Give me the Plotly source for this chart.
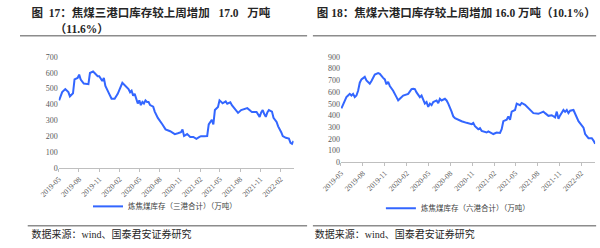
import pandas as pd
import plotly.graph_objects as go

# ---- data (weekly index since 2019-05-03, value in 万吨) ----
start_date = "2019-05-03"

left_weeks = [0, 2, 4, 6, 7, 9, 10, 12, 13, 14, 16, 19, 20, 22, 23, 25, 26, 28, 29, 30,
              32, 34, 36, 38, 41, 42, 45, 46, 47, 48, 49, 51, 52, 53, 54, 55, 56, 57, 58, 59,
              61, 62, 64, 67, 69, 72, 75, 77, 79, 80, 81, 83, 85, 87, 89, 91, 92, 94, 96, 97,
              99, 100, 101, 103, 104, 106, 108, 109, 111, 112, 114, 116, 118, 120, 122, 124, 125, 128, 130, 131,
              132, 133, 134, 135, 136, 138, 139, 141, 142, 144, 145, 147, 148, 149, 150, 151, 152]
left_values = [426, 478, 497, 478, 451, 471, 558, 568, 589, 558, 532, 528, 599, 609, 599, 579, 579, 548, 568, 517,
               477, 436, 436, 467, 537, 528, 497, 477, 487, 456, 467, 406, 426, 396, 416, 406, 426, 416, 416, 396,
               386, 355, 315, 274, 243, 231, 213, 218, 225, 243, 201, 213, 195, 195, 183, 195, 200, 200, 201, 274,
               304, 274, 365, 384, 426, 408, 420, 405, 414, 396, 370, 347, 365, 370, 377, 360, 353, 353, 322, 350,
               365, 340, 322, 350, 365, 355, 316, 290, 262, 225, 201, 190, 189, 185, 158, 152, 170]

right_weeks = [0, 2, 3, 4, 5, 6, 7, 8, 9, 10, 11, 12, 14, 15, 17, 18, 20, 22, 23, 25,
               26, 27, 28, 29, 31, 33, 34, 35, 37, 40, 42, 43, 44, 45, 47, 48, 49, 50, 51, 52,
               53, 54, 55, 57, 58, 59, 60, 62, 63, 64, 66, 67, 68, 70, 72, 75, 78, 79, 80, 82,
               83, 84, 87, 88, 90, 91, 93, 95, 96, 97, 99, 100, 101, 102, 104, 105, 107, 108, 110, 112,
               115, 118, 121, 122, 124, 126, 128, 129, 130, 131, 133, 134, 135, 136, 137, 139, 141, 142, 145, 146,
               148, 150, 151, 152]
right_values = [460, 528, 556, 570, 584, 570, 584, 556, 570, 611, 680, 708, 730, 700, 672, 694, 749, 762, 755, 721,
                708, 666, 688, 652, 611, 556, 528, 542, 570, 584, 625, 628, 625, 597, 556, 570, 528, 501, 514, 473,
                501, 487, 514, 528, 505, 542, 528, 542, 528, 501, 432, 391, 377, 363, 350, 336, 325, 335, 308, 281,
                290, 267, 253, 262, 245, 240, 253, 250, 281, 350, 363, 391, 363, 432, 446, 501, 487, 506, 490, 460,
                419, 413, 432, 419, 396, 401, 383, 432, 371, 400, 446, 430, 446, 419, 440, 446, 388, 350, 295, 240,
                204, 204, 184, 157]

NB = "\u00a0"
left_name = "炼焦煤库存（三港合计）（万吨）"
right_name = "炼焦煤库存（六港合计）（万吨）"
left_title_1 = f"图{NB*2}17：焦煤三港口库存较上周增加{NB*3}17.0{NB*3}万吨"
left_title_2 = "（11.6%）"
right_title = f"图{NB}18：焦煤六港口库存较上周增加 16.0 万吨（10.1%）"
source_text = "数据来源：wind、国泰君安证券研究"

W, H = 600, 248
def px(x):
    return x / W
def py(y):
    return 1 - y / H

t0 = pd.Timestamp(start_date)
left_dates = [t0 + pd.Timedelta(days=7 * w) for w in left_weeks]
right_dates = [t0 + pd.Timedelta(days=7 * w) for w in right_weeks]

LINE = "#3366FF"
SERIF = "Liberation Serif, Noto Sans CJK SC"
CJK = "Noto Sans CJK SC"
TICKC = "#595959"

fig = go.Figure()
fig.add_trace(go.Scatter(x=left_dates, y=left_values, mode="lines", name=left_name,
                         line=dict(color=LINE, width=2), xaxis="x", yaxis="y", legend="legend"))
fig.add_trace(go.Scatter(x=right_dates, y=right_values, mode="lines", name=right_name,
                         line=dict(color=LINE, width=2), xaxis="x2", yaxis="y2", legend="legend2"))

# page-level texts (titles, source notes) on a hidden full-page axis
def page_text(txt, x, y, size, bold=False):
    fig.add_trace(go.Scatter(x=[x], y=[y], mode="text", text=["<b>" + txt + "</b>" if bold else txt],
                             textposition="middle right", cliponaxis=False, showlegend=False,
                             hoverinfo="skip", marker=dict(size=1),
                             textfont=dict(family=SERIF, size=size, color="#262626"),
                             xaxis="x3", yaxis="y3"))

page_text(left_title_1, 12, 11, 11.5, True)
page_text(left_title_2, 36, 27, 11.5, True)
page_text(right_title, 307, 11, 11.5, True)
page_text(source_text, 12, 240, 10)
page_text(source_text, 305, 240, 10)

xcommon = dict(type="date", range=["2019-05-01", "2022-04-01"], tick0="2019-05-01", dtick="M3",
               tickformat="%Y-%m", tickangle=-45, showgrid=False, showline=True,
               linecolor="#BFBFBF", linewidth=1, ticks="outside", ticklen=3, tickcolor="#BFBFBF",
               tickfont=dict(family=SERIF, size=7.5, color=TICKC), zeroline=False, fixedrange=True)
ycommon = dict(showgrid=False, showline=False, zeroline=False, ticks="",
               tickfont=dict(family=SERIF, size=8, color=TICKC), fixedrange=True)

fig.update_layout(
    width=W, height=H, margin=dict(l=0, r=0, t=0, b=0),
    paper_bgcolor="white", plot_bgcolor="rgba(0,0,0,0)",
    xaxis=dict(domain=[px(40), px(283)], anchor="y", **xcommon),
    yaxis=dict(domain=[py(170), py(55)], anchor="x", range=[0, 700], dtick=100, **ycommon),
    xaxis2=dict(domain=[px(332), px(595)], anchor="y2", **xcommon),
    yaxis2=dict(domain=[py(164), py(55)], anchor="x2", range=[0, 900], dtick=100, **ycommon),
    xaxis3=dict(domain=[0, 1], range=[0, W], visible=False, anchor="y3", fixedrange=True),
    yaxis3=dict(domain=[0, 1], range=[H, 0], visible=False, anchor="x3", fixedrange=True),
    legend=dict(x=px(150), y=py(210), xanchor="center", yanchor="middle",
                font=dict(family=CJK, size=7.5, color="#404040"), bgcolor="rgba(0,0,0,0)"),
    legend2=dict(x=px(453), y=py(212), xanchor="center", yanchor="middle",
                 font=dict(family=CJK, size=7.5, color="#404040"), bgcolor="rgba(0,0,0,0)"),
    showlegend=True,
)

# horizontal rules
fig.add_shape(type="line", xref="paper", yref="paper", x0=0, x1=px(297), y0=py(33), y1=py(33),
              line=dict(color="#8C8C8C", width=1.5))
fig.add_shape(type="line", xref="paper", yref="paper", x0=px(303), x1=px(596), y0=py(33), y1=py(33),
              line=dict(color="#8C8C8C", width=1.5))
fig.add_shape(type="line", xref="paper", yref="paper", x0=px(8), x1=px(297), y0=py(230), y1=py(230),
              line=dict(color="#8C8C8C", width=1.5))
fig.add_shape(type="line", xref="paper", yref="paper", x0=px(303), x1=px(596), y0=py(230), y1=py(230),
              line=dict(color="#8C8C8C", width=1.5))

fig.write_html("out.html")
